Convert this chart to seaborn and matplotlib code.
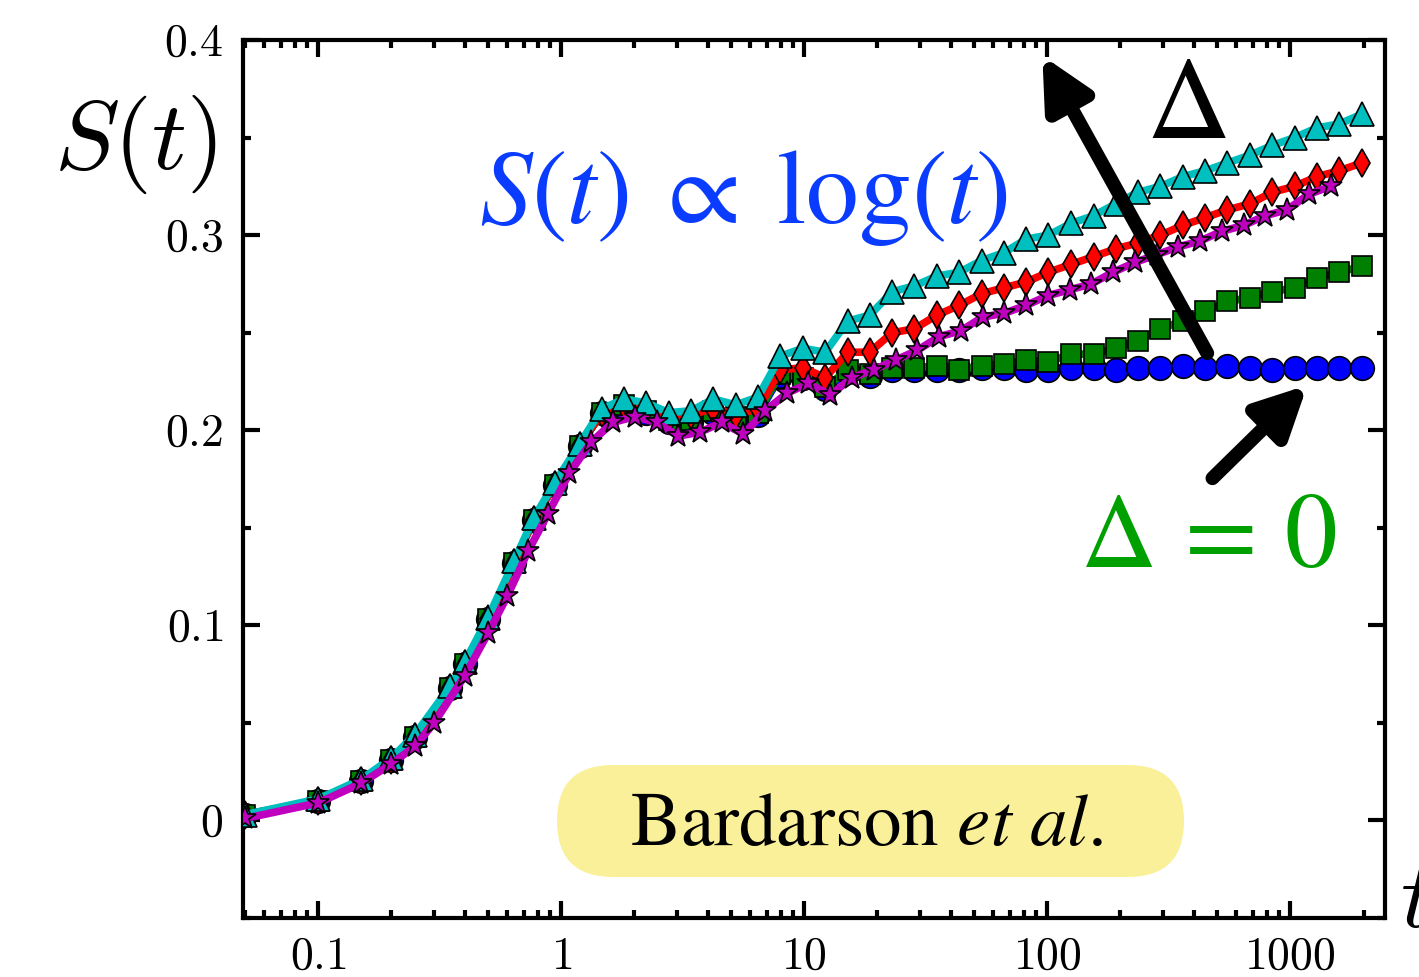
import matplotlib
matplotlib.use("Agg")
import matplotlib.pyplot as plt
from matplotlib.patches import FancyBboxPatch
from matplotlib.ticker import MultipleLocator, NullFormatter
import seaborn as sns

# time grid shared by the circle / square / diamond / triangle curves
t_main = [0.05, 0.1, 0.15, 0.2, 0.25, 0.35, 0.4, 0.5, 0.64, 0.77, 0.94,
          1.19, 1.47, 1.81, 2.24, 2.77, 3.42, 4.23, 5.22, 6.45, 7.98, 9.86,
          12.2, 15.1, 18.6, 23.0, 28.4, 35.1, 43.4, 53.6, 66.3, 81.9, 101,
          125, 155, 191, 236, 292, 361, 446, 551, 681, 842, 1040, 1286, 1589, 1964]
# the star curve is sampled on a slightly different grid
t_star = [0.05, 0.1, 0.15, 0.2, 0.25, 0.3, 0.4, 0.5, 0.6, 0.73, 0.88, 1.08,
          1.33, 1.63, 2.01, 2.47, 3.03, 3.72, 4.58, 5.62, 6.91, 8.49, 10.4,
          12.8, 15.7, 19.3, 23.8, 29.2, 35.9, 44.1, 54.2, 66.6, 81.8, 100.5,
          123.5, 151.8, 186.5, 229, 282, 346, 425, 523, 642, 789, 970, 1192, 1465]

s_blue = [0.003, 0.010, 0.020, 0.031, 0.043, 0.068, 0.080, 0.103, 0.132, 0.154, 0.172,
          0.192, 0.209, 0.212, 0.209, 0.204, 0.204, 0.209, 0.206, 0.208, 0.228, 0.227,
          0.221, 0.230, 0.228, 0.231, 0.231, 0.231, 0.231, 0.232, 0.232, 0.231, 0.231,
          0.232, 0.232, 0.231, 0.232, 0.232, 0.233, 0.232, 0.233, 0.232, 0.231, 0.232,
          0.232, 0.232, 0.232]
s_green = [0.003, 0.010, 0.020, 0.031, 0.043, 0.068, 0.080, 0.103, 0.132, 0.154, 0.172,
           0.192, 0.209, 0.213, 0.210, 0.205, 0.205, 0.210, 0.207, 0.209, 0.229, 0.227,
           0.222, 0.231, 0.229, 0.232, 0.232, 0.233, 0.231, 0.233, 0.234, 0.236, 0.235,
           0.239, 0.239, 0.242, 0.246, 0.252, 0.256, 0.261, 0.266, 0.268, 0.271, 0.273,
           0.278, 0.281, 0.284]
s_red = [0.003, 0.010, 0.020, 0.031, 0.043, 0.068, 0.080, 0.103, 0.132, 0.154, 0.172,
         0.192, 0.209, 0.213, 0.211, 0.206, 0.208, 0.211, 0.208, 0.211, 0.231, 0.232,
         0.227, 0.240, 0.240, 0.250, 0.252, 0.259, 0.264, 0.270, 0.273, 0.276, 0.281,
         0.285, 0.289, 0.293, 0.296, 0.300, 0.305, 0.309, 0.313, 0.316, 0.322, 0.325,
         0.330, 0.333, 0.337]
s_cyan = [0.003, 0.011, 0.021, 0.032, 0.044, 0.069, 0.081, 0.104, 0.133, 0.155, 0.173,
          0.193, 0.211, 0.216, 0.214, 0.209, 0.210, 0.216, 0.213, 0.217, 0.238, 0.242,
          0.240, 0.256, 0.259, 0.271, 0.274, 0.279, 0.281, 0.287, 0.291, 0.298, 0.300,
          0.306, 0.310, 0.316, 0.322, 0.325, 0.330, 0.333, 0.337, 0.341, 0.346, 0.350,
          0.355, 0.357, 0.362]
s_star = [0.001, 0.009, 0.019, 0.029, 0.038, 0.050, 0.074, 0.096, 0.115, 0.138, 0.157, 0.178,
          0.194, 0.204, 0.207, 0.204, 0.197, 0.199, 0.204, 0.198, 0.210, 0.219, 0.224,
          0.218, 0.227, 0.231, 0.236, 0.241, 0.248, 0.251, 0.258, 0.260, 0.264, 0.269,
          0.272, 0.275, 0.281, 0.286, 0.290, 0.294, 0.297, 0.302, 0.305, 0.310, 0.313,
          0.321, 0.325]

x_ticks = [0.1, 1, 10, 100, 1000]
x_ticklabels = ["$0.1$", "$1$", "$10$", "$100$", "$1000$"]
y_ticks = [0, 0.1, 0.2, 0.3, 0.4]
y_ticklabels = ["$0$", "$0.1$", "$0.2$", "$0.3$", "$0.4$"]

sns.set_style("ticks")
plt.rcParams.update({
    "mathtext.fontset": "cm",
    "text.color": "black",
    "axes.labelcolor": "black",
    "axes.edgecolor": "black",
    "xtick.color": "black",
    "ytick.color": "black",
})
plt.rcParams["font.family"] = ["STIXGeneral", "DejaVu Serif"]

fig = plt.figure(figsize=(14.19, 9.77), dpi=100)
ax = fig.add_axes([0.1712, 0.0604, 0.8048, 0.8986])

series = [
    (t_main, s_blue, "o", "#0000ff", 17),
    (t_main, s_green, "s", "#008000", 15),
    (t_main, s_red, "d", "#ff0000", 14),
    (t_main, s_cyan, "^", "#00bfbf", 17),
    (t_star, s_star, "*", "#bf00bf", 17),
]
for z, (tt, ss, mk, col, ms) in enumerate(series):
    sns.lineplot(x=tt, y=ss, ax=ax, color=col, linewidth=5.5, marker=mk,
                 markersize=ms, markeredgecolor="black", markeredgewidth=1.2,
                 errorbar=None, zorder=3 + z)

ax.set_xscale("log")
ax.set_xlim(0.049, 2450)
ax.set_ylim(-0.05, 0.4)
ax.set_xticks(x_ticks)
ax.set_xticklabels(x_ticklabels)
ax.xaxis.set_minor_formatter(NullFormatter())
ax.set_yticks(y_ticks)
ax.set_yticklabels(y_ticklabels)
ax.yaxis.set_minor_locator(MultipleLocator(0.05))
ax.tick_params(which="both", direction="in", top=True, right=True,
               width=3, colors="black", labelsize=33)
ax.tick_params(axis="x", which="both", pad=14)
ax.tick_params(axis="y", which="both", pad=14)
ax.tick_params(which="major", length=12)
ax.tick_params(which="minor", length=6)
for sp in ax.spines.values():
    sp.set_linewidth(3)
    sp.set_color("black")
ax.set_xlabel("")
ax.set_ylabel("")

# axis labels in LaTeX style
fig.text(135 / 1419, 1 - 145 / 977, "$S(t)$", fontsize=70, ha="center", va="center")
fig.text(1417 / 1419, 1 - 905 / 977, "$t$", fontsize=68, ha="center", va="center")

# annotations
ax.text(5.6, 0.306, r"$S(t)\;\propto\;\log(t)$", color="#0a3cff", fontsize=76,
        ha="center", va="baseline", math_fontfamily="stix")
ax.text(373, 0.35, r"$\Delta$", color="black", fontsize=84,
        ha="center", va="baseline", math_fontfamily="stix")
ax.text(460, 0.130, r"$\Delta\,=\,0$", color="#00a000", fontsize=76,
        ha="center", va="baseline", math_fontfamily="stix")

box = FancyBboxPatch((5.57, 1.00), 6.27, 1.12,
                     boxstyle="round,pad=0,rounding_size=0.56",
                     transform=fig.dpi_scale_trans, facecolor="#faf09a",
                     edgecolor="none", zorder=1)
ax.add_patch(box)
ax.text(18.0, -0.0128, r"Bardarson $\mathit{et\ al.}$", color="black", fontsize=54,
        ha="center", va="baseline", math_fontfamily="stix", zorder=10)

arrow = dict(arrowstyle="-|>,head_length=0.6,head_width=0.3", lw=10, color="black",
             mutation_scale=50, shrinkA=0, shrinkB=0)
ax.annotate("", xy=(95.4, 0.392), xytext=(455, 0.2395), arrowprops=arrow, zorder=20)
ax.annotate("", xy=(1175, 0.2231), xytext=(478, 0.1754), arrowprops=arrow, zorder=20)

fig.savefig("out.png", dpi=100)
